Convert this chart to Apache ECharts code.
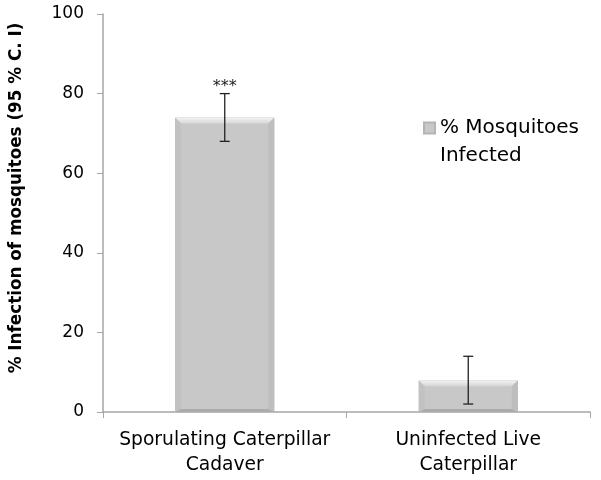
<!DOCTYPE html>
<html><head><meta charset="utf-8">
<script src="https://cdn.jsdelivr.net/npm/echarts@6/dist/echarts.min.js"></script>
<style>html,body{margin:0;padding:0;background:#fff}#c{width:601px;height:480px}</style>
</head><body><div id="c"></div>
<script>
var categories = ['Sporulating Caterpillar\nCadaver', 'Uninfected Live\nCaterpillar'];
var seriesName = '% Mosquitoes Infected';
var values = [74, 8];
var ciLow = [68, 2];
var ciHigh = [80, 14];
var significance = ['***', ''];
var yTicks = [0, 20, 40, 60, 80, 100];

var chart = echarts.init(document.getElementById('c'));
var font = '"DejaVu Sans", sans-serif';
chart.setOption({
  animation: false,
  backgroundColor: '#fff',
  grid: {left: 102, right: 11, top: 14, bottom: 68},
  legend: {
    left: 418, top: 81,
    data: [{name: seriesName, icon: 'rect'}],
    itemWidth: 11, itemHeight: 11,
    formatter: function(){ return '\n% Mosquitoes\nInfected'; },
    textStyle: {fontFamily: font, fontSize: 20, color: '#000', lineHeight: 28}
  },
  xAxis: {
    type: 'category', data: categories,
    axisLine: {lineStyle: {color: '#a6a6a6', width: 1.5}},
    axisTick: {show: true, length: 6, lineStyle: {color: '#a6a6a6'}},
    axisLabel: {fontFamily: font, fontSize: 18.7, color: '#000', lineHeight: 25, margin: 16, interval: 0, hideOverlap: false}
  },
  yAxis: {
    type: 'value', min: 0, max: 100, interval: 20,
    axisLine: {show: true, lineStyle: {color: '#a6a6a6', width: 1.5}},
    axisTick: {show: true, length: 6, lineStyle: {color: '#a6a6a6'}},
    splitLine: {show: false},
    axisLabel: {fontFamily: font, fontSize: 17, color: '#000', margin: 19,
      formatter: function(v){ return yTicks.indexOf(v) >= 0 ? String(v) : ''; }},
    name: '% Infection of mosquitoes (95 % C. I)',
    nameLocation: 'middle', nameGap: 78, nameRotate: 90,
    nameTextStyle: {fontFamily: font, fontSize: 16.8, fontWeight: 'bold', color: '#000', padding: [0, 0, 0, 30]}
  },
  series: [
    {
      name: seriesName, type: 'bar', data: values, barWidth: 99,
      itemStyle: {color: '#c8c8c8', borderColor: '#b4b4b4', borderWidth: 1}
    },
    {
      name: 'bevel', type: 'custom', z: 5, silent: true,
      data: values.map(function(v, i){ return [i, v]; }),
      renderItem: function(params, api){
        var top = api.coord([api.value(0), api.value(1)]);
        var base = api.coord([api.value(0), 0]);
        var w = 99, b = 6;
        var x0 = top[0] - w/2, x1 = top[0] + w/2, y0 = top[1], y1 = base[1];
        return {type: 'group', children: [
          {type: 'polygon', shape: {points: [[x0, y0], [x0+b, y0+b], [x0+b, y1-3], [x0, y1]]},
            style: {fill: '#c2c2c2'}},
          {type: 'polygon', shape: {points: [[x1, y0], [x1-b, y0+b], [x1-b, y1-3], [x1, y1]]},
            style: {fill: '#bebebe'}},
          {type: 'polygon', shape: {points: [[x0, y1], [x0+b, y1-3], [x1-b, y1-3], [x1, y1]]},
            style: {fill: '#ababab'}},
          {type: 'polygon', shape: {points: [[x0, y0], [x1, y0], [x1-b, y0+b], [x0+b, y0+b]]},
            style: {fill: new echarts.graphic.LinearGradient(0, 0, 0, 1, [{offset: 0, color: '#f4f4f4'}, {offset: 1, color: '#d6d6d6'}])}}
        ]};
      }
    },
    {
      name: 'ci', type: 'custom', z: 10, silent: true,
      data: categories.map(function(c, i){ return [i, ciLow[i], ciHigh[i]]; }),
      renderItem: function(params, api){
        var lo = api.coord([api.value(0), api.value(1)]);
        var hi = api.coord([api.value(0), api.value(2)]);
        var hw = 5;
        var st = {stroke: '#222', lineWidth: 1.3};
        var children = [
          {type: 'line', shape: {x1: hi[0], y1: hi[1], x2: lo[0], y2: lo[1]}, style: st},
          {type: 'line', shape: {x1: hi[0]-hw, y1: hi[1], x2: hi[0]+hw, y2: hi[1]}, style: st},
          {type: 'line', shape: {x1: lo[0]-hw, y1: lo[1], x2: lo[0]+hw, y2: lo[1]}, style: st}
        ];
        var s = significance[params.dataIndex];
        if (s) children.push({type: 'text', style: {text: s, x: hi[0], y: hi[1]+1, align: 'center', verticalAlign: 'bottom', fontFamily: font, fontSize: 16, fill: '#222'}});
        return {type: 'group', children: children};
      }
    }
  ]
});
</script></body></html>
